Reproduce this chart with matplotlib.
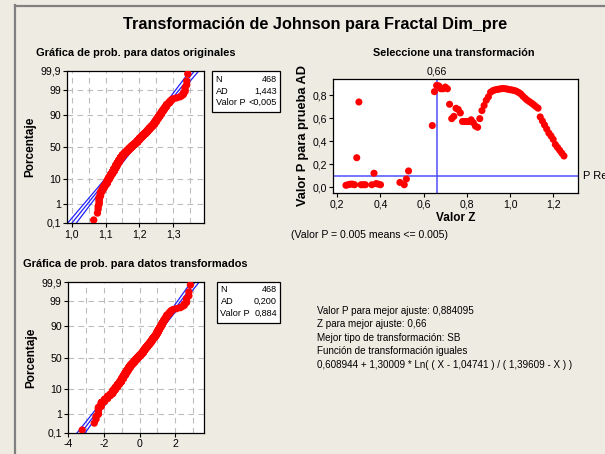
import numpy as np
import matplotlib
matplotlib.use('Agg')
import matplotlib.pyplot as plt
from matplotlib.patches import Rectangle
from matplotlib.lines import Line2D
from statistics import NormalDist

# ---------------- data ----------------
# Original data (Fractal Dim_pre), as distinct values and how many points sit at each
orig_values = [1.065, 1.076, 1.078, 1.081, 1.085,
               1.090, 1.095, 1.100, 1.105, 1.110, 1.115, 1.120, 1.125, 1.130, 1.135,
               1.140, 1.145, 1.150, 1.155, 1.160, 1.165, 1.170, 1.175, 1.180, 1.185,
               1.190, 1.195, 1.200, 1.205, 1.210, 1.215, 1.220, 1.225, 1.230, 1.235,
               1.240, 1.245, 1.250, 1.255, 1.260, 1.265, 1.270, 1.275, 1.280, 1.285,
               1.290, 1.295, 1.300,
               1.310, 1.320, 1.325, 1.330, 1.335, 1.340, 1.343]
orig_counts = [1, 1, 2, 6, 6,
               5, 6, 5, 10, 10, 11, 11, 16, 17, 17,
               18, 17, 17, 12, 12, 13, 13, 12, 12, 10,
               11, 15, 14, 11, 12, 10, 11, 12, 11, 9,
               9, 12, 11, 9, 8, 8, 6, 5, 5, 2,
               3, 2, 1,
               1, 1, 1, 2, 3, 2, 1]

# Johnson SB transformation shown in the chart
jg, jd, jxi, jup = 0.608944, 1.30009, 1.04741, 1.39609

# Transformation selection plot (Z vs AD p-value)
z_values = [0.24, 0.25, 0.26, 0.27, 0.28, 0.29, 0.30, 0.31, 0.32, 0.33,
            0.36, 0.37, 0.38, 0.39, 0.40, 0.49, 0.51, 0.52, 0.53,
            0.64, 0.65, 0.66, 0.67, 0.68, 0.69, 0.70, 0.71, 0.72, 0.73,
            0.74, 0.75, 0.76, 0.77, 0.78, 0.79, 0.80, 0.81, 0.82, 0.83,
            0.84, 0.85, 0.86, 0.87, 0.88, 0.89, 0.90, 0.91, 0.92, 0.93,
            0.94, 0.95, 0.96, 0.97, 0.98, 0.99, 1.00, 1.01, 1.02, 1.03,
            1.04, 1.05, 1.06, 1.07, 1.08, 1.09, 1.10, 1.11, 1.12, 1.13,
            1.14, 1.15, 1.16, 1.17, 1.18, 1.19, 1.20, 1.21, 1.22, 1.23,
            1.24, 1.25]
p_values = [0.015, 0.02, 0.025, 0.025, 0.02, 0.255, 0.74, 0.02, 0.02, 0.02,
            0.02, 0.12, 0.03, 0.025, 0.02, 0.04, 0.02, 0.07, 0.14,
            0.535, 0.83, 0.884, 0.88, 0.855, 0.855, 0.87, 0.855, 0.72, 0.595,
            0.615, 0.685, 0.675, 0.645, 0.57, 0.57, 0.57, 0.57, 0.585, 0.56,
            0.53, 0.52, 0.595, 0.665, 0.71, 0.755, 0.785, 0.825, 0.838, 0.845,
            0.849, 0.852, 0.856, 0.857, 0.855, 0.851, 0.847, 0.844, 0.84, 0.833,
            0.823, 0.81, 0.79, 0.772, 0.756, 0.743, 0.73, 0.716, 0.70, 0.686,
            0.61, 0.575, 0.54, 0.505, 0.47, 0.445, 0.415, 0.37, 0.345, 0.32,
            0.295, 0.27]
best_z = 0.66
p_ref = 0.10

pct_ticks = [0.1, 1, 10, 50, 90, 99, 99.9]
pct_labels = ['0,1', '1', '10', '50', '90', '99', '99,9']

legend1 = [('N', '468'), ('AD', '1,443'), ('Valor P', '<0,005')]
legend2 = [('N', '468'), ('AD', '0,200'), ('Valor P', '0,884')]
info_lines = ['Valor P para mejor ajuste: 0,884095',
              'Z para mejor ajuste: 0,66',
              'Mejor tipo de transformación: SB',
              'Función de transformación iguales',
              '0,608944 + 1,30009 * Ln( ( X - 1,04741 ) / ( 1,39609 - X ) )']

# ---------------- styling ----------------
W, H = 605, 454
BG = '#EEEBE2'
NARROW = ['DejaVu Sans Condensed', 'Liberation Sans', 'DejaVu Sans']
BOLD = ['Liberation Sans', 'DejaVu Sans']
plt.rcParams['font.family'] = NARROW
TICK = 7.6

fig = plt.figure(figsize=(W / 100, H / 100), dpi=100, facecolor=BG)


def fx(x):
    return x / W


def fy(y):
    return 1 - y / H


def ax_rect(l, r, t, b):
    return [fx(l), fy(b), (r - l) / W, (b - t) / H]


# outer frame
fig.add_artist(Line2D([fx(15), fx(15)], [fy(5), fy(460)], color='#808080', lw=1.6))
fig.add_artist(Line2D([fx(15), fx(610)], [fy(5.5), fy(5.5)], color='#808080', lw=1.6))

nd = NormalDist()


def prob_plot(ax, data, xlim, xmajor, xminor, xlabels):
    data = np.sort(np.asarray(data, dtype=float))
    n = len(data)
    ranks = np.arange(1, n + 1)
    pp = (ranks - 0.3) / (n + 0.4)
    zz = np.array([nd.inv_cdf(p) for p in pp])
    mu, sd = data.mean(), data.std(ddof=1)
    zl = np.linspace(-3.5, 3.5, 200)
    fit = mu + sd * zl
    hw = 1.96 * sd * np.sqrt(1.0 / n + zl ** 2 / (2.0 * (n - 1)))
    ax.set_facecolor('white')
    for xm in xminor:
        ax.axvline(xm, color='#BDBDBD', lw=0.8, ls=(0, (5, 4)), zorder=0)
    for pt in pct_ticks[1:-1]:
        ax.axhline(nd.inv_cdf(pt / 100), color='#BDBDBD', lw=0.8, ls=(0, (5, 4)), zorder=0)
    ax.plot(fit, zl, color='#1F1FFF', lw=0.9, zorder=2)
    ax.plot(fit - hw, zl, color='#1F1FFF', lw=0.9, zorder=2)
    ax.plot(fit + hw, zl, color='#1F1FFF', lw=0.9, zorder=2)
    ax.scatter(data, zz, s=28, color='#FF0000', edgecolors='none', zorder=3)
    ax.set_xlim(*xlim)
    ax.set_ylim(nd.inv_cdf(0.001), nd.inv_cdf(0.999))
    ax.set_yticks([nd.inv_cdf(p / 100) for p in pct_ticks])
    ax.set_yticklabels(pct_labels)
    ax.set_xticks(xmajor)
    ax.set_xticklabels(xlabels)
    ax.tick_params(direction='out', length=3, width=0.8, labelsize=TICK, pad=1.5)
    for s in ax.spines.values():
        s.set_linewidth(0.9)
    ax.set_ylabel('Porcentaje', fontsize=8.5, fontweight='bold', family=BOLD, labelpad=3)


orig = np.repeat(orig_values, orig_counts)
trans = jg + jd * np.log((orig - jxi) / (jup - orig))

ax1 = fig.add_axes(ax_rect(67, 204, 71, 223))
prob_plot(ax1, orig, (0.986, 1.391), [1.0, 1.1, 1.2, 1.3],
          [1.0, 1.05, 1.1, 1.15, 1.2, 1.25, 1.3, 1.35], ['1,0', '1,1', '1,2', '1,3'])

ax3 = fig.add_axes(ax_rect(68, 204, 282, 433))
prob_plot(ax3, trans, (-4.0, 3.6), [-4, -2, 0, 2],
          [-3, -2, -1, 0, 1, 2, 3], ['-4', '-2', '0', '2'])

# selection plot
ax2 = fig.add_axes(ax_rect(333, 578, 79, 193))
ax2.set_facecolor('white')
ax2.scatter(z_values, p_values, s=26, color='#FF0000', edgecolors='none', zorder=3)
ax2.axvline(best_z, color='#4F4FFF', lw=1.1, zorder=2)
ax2.axhline(p_ref, color='#4F4FFF', lw=1.1, zorder=2)
ax2.set_xlim(0.18, 1.315)
ax2.set_ylim(-0.052, 0.94)
ax2.set_xticks([0.2, 0.4, 0.6, 0.8, 1.0, 1.2])
ax2.set_xticklabels(['0,2', '0,4', '0,6', '0,8', '1,0', '1,2'])
ax2.set_yticks([0.0, 0.2, 0.4, 0.6, 0.8])
ax2.set_yticklabels(['0,0', '0,2', '0,4', '0,6', '0,8'])
ax2.tick_params(direction='out', length=3, width=0.8, labelsize=TICK, pad=1.5)
for s in ax2.spines.values():
    s.set_linewidth(0.9)
ax2.set_xlabel('Valor Z', fontsize=8.5, fontweight='bold', family=BOLD, labelpad=2)
ax2.set_ylabel('Valor P para prueba AD', fontsize=9.2, fontweight='bold', family=BOLD, labelpad=2)
ax2.text(best_z, 1.02, '0,66', transform=ax2.get_xaxis_transform(), ha='center',
         va='bottom', fontsize=TICK)
ax2.text(1.02, p_ref, 'P Ref', transform=ax2.get_yaxis_transform(), ha='left',
         va='center', fontsize=TICK + 0.4, clip_on=False)

# titles
fig.text(fx(315), fy(24), 'Transformación de Johnson para Fractal Dim_pre', ha='center',
         va='center', fontsize=11.7, fontweight='bold', family=BOLD)
fig.text(fx(36), fy(53), 'Gráfica de prob. para datos originales', ha='left', va='center',
         fontsize=7.9, fontweight='bold', family=BOLD)
fig.text(fx(454), fy(53), 'Seleccione una transformación', ha='center', va='center',
         fontsize=7.8, fontweight='bold', family=BOLD)
fig.text(fx(23), fy(264), 'Gráfica de prob. para datos transformados', ha='left', va='center',
         fontsize=7.9, fontweight='bold', family=BOLD)
fig.text(fx(291), fy(235), '(Valor P = 0.005 means <= 0.005)', ha='left', va='center',
         fontsize=TICK)


def legend_box(l, r, t, b, rows, ys):
    fig.add_artist(Rectangle((fx(l), fy(b)), (r - l) / W, (b - t) / H, transform=fig.transFigure,
                             facecolor='white', edgecolor='black', lw=0.9))
    for (k, v), yy in zip(rows, ys):
        fig.text(fx(l + 3.5), fy(yy), k, ha='left', va='center', fontsize=6.6)
        fig.text(fx(r - 3), fy(yy), v, ha='right', va='center', fontsize=6.6)


legend_box(212, 280, 71, 112, legend1, [79, 91, 102.5])
legend_box(217, 280, 282, 323, legend2, [289.5, 301.5, 313])

for i, line in enumerate(info_lines):
    fig.text(fx(317), fy(310.7 + i * 13.6), line, ha='left', va='center', fontsize=7.1)

fig.savefig('out.png', dpi=100, facecolor=BG)
